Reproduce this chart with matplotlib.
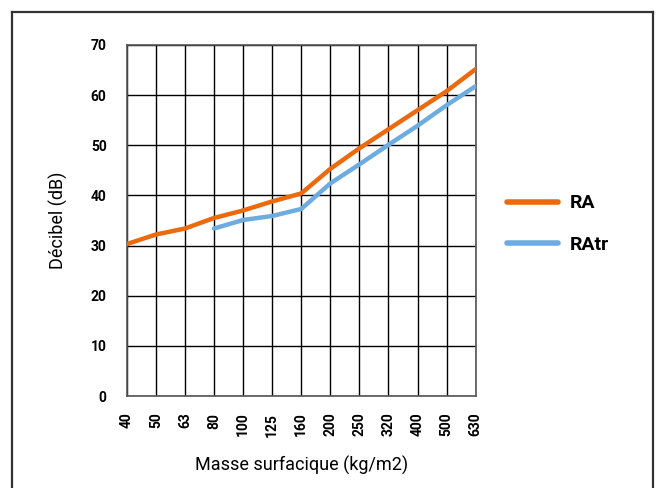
import matplotlib
matplotlib.use("Agg")
import matplotlib.pyplot as plt
from matplotlib.lines import Line2D

# Data
masses = ["40", "50", "63", "80", "100", "125", "160", "200", "250", "320", "400", "500", "630"]
ra = [30.3, 32.2, 33.4, 35.5, 37.0, 38.8, 40.4, 45.3, 49.4, 53.2, 57.0, 60.8, 65.2]
ratr_masses = ["80", "100", "125", "160", "200", "250", "320", "400", "500", "630"]
ratr = [33.4, 35.1, 35.9, 37.3, 42.4, 46.2, 50.1, 53.9, 58.0, 61.8]

orange = "#EC6A0E"
blue = "#6DACE0"

plt.rcParams["font.family"] = ["Roboto", "DejaVu Sans"]

fig = plt.figure(figsize=(6.57, 4.88), dpi=100)
ax = fig.add_axes([0.1929, 0.1885, 0.5312, 0.7193])

x_all = list(range(len(masses)))
x_tr = [masses.index(m) for m in ratr_masses]

ax.plot(x_all, ra, color=orange, lw=3.2, solid_capstyle="round", label="RA", zorder=3)
ax.plot(x_tr, ratr, color=blue, lw=3.2, solid_capstyle="round", label="RAtr", zorder=3)

ax.set_xlim(0, len(masses) - 1)
ax.set_ylim(0, 70)
ax.set_xticks(x_all)
ax.set_xticklabels(masses, rotation=90, fontweight="bold", fontsize=10)
ax.set_yticks(range(0, 71, 10))
ax.set_yticklabels([str(v) for v in range(0, 71, 10)], fontweight="bold", fontsize=10)
ax.tick_params(axis="both", length=0)
ax.tick_params(axis="y", pad=14.5)
ax.tick_params(axis="x", pad=12)

ax.grid(True, color="black", lw=1)
ax.set_axisbelow(True)
for s in ax.spines.values():
    s.set_color("#555555")
    s.set_linewidth(1.2)

ax.set_xlabel("Masse surfacique (kg/m2)", fontsize=13, labelpad=14)
ax.set_ylabel("Décibel (dB)", fontsize=13, labelpad=16)

ax.legend(loc="center left", bbox_to_anchor=(0.772, 0.541), bbox_transform=fig.transFigure,
          frameon=False, borderpad=0, borderaxespad=0, handlelength=2.6, handletextpad=0.6,
          labelspacing=1.2, prop={"weight": "bold", "size": 14})
for h in ax.get_legend().get_lines():
    h.set_linewidth(4)
    h.set_solid_capstyle("round")

# outer frame (left, top, right edges; bottom runs off the image)
W, H = 657, 488
fx = lambda p: p / W
fy = lambda p: 1 - p / H
for xs, ys in [([12, 12], [12, 500]), ([12, 653], [12, 12]), ([653, 653], [12, 500])]:
    fig.add_artist(Line2D([fx(v) for v in xs], [fy(v) for v in ys], color="#333333", lw=1.6))

fig.savefig("out.png", dpi=100)
